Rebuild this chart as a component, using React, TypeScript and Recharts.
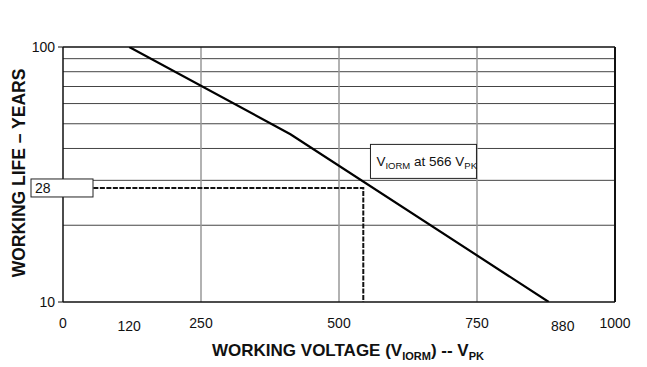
import React from "react";
import { LineChart, Line, XAxis, YAxis, ReferenceLine, ReferenceDot, Label } from "recharts";

const voltage = [120, 412, 880];
const lifeYears = [100, 45.5, 10];

const markVoltage = [55, 544, 544];
const markLife = [28, 28, 10];

const xTicks = [0, 120, 250, 500, 750, 880, 1000];
const yTicks = [10, 28, 100];
const xGrid = [250, 500, 750];
const yGrid = [20, 30, 40, 50, 60, 70, 80, 90];

const curve = voltage.map((v, i) => ({ v, life: lifeYears[i] }));
const marker = markVoltage.map((v, i) => ({ v, life: markLife[i] }));

const FONT = "'Liberation Sans', Arial, sans-serif";

function XTick(props: any) {
  const { x, y, payload } = props;
  const val = payload.value;
  const odd = val === 120 || val === 880;
  const dx = val === 880 ? 14 : 0;
  return (
    <text x={x + dx} y={y + (odd ? 21 : 18)} textAnchor="middle" fontSize={14} fontFamily={FONT} fill="#111">
      {val}
    </text>
  );
}

function YTick(props: any) {
  const { x, y, payload } = props;
  const val = payload.value;
  if (val === 28) {
    return (
      <g>
        <rect x={x - 25} y={y - 9} width={62} height={18} fill="#fff" stroke="#222" strokeWidth={1} />
        <text x={x - 21} y={y + 5} fontSize={14} fontFamily={FONT} fill="#111">28</text>
      </g>
    );
  }
  return (
    <g>
      <line x1={x + 2} x2={x + 7} y1={y} y2={y} stroke="#111" strokeWidth={1} />
      <text x={x - 1} y={y + 5} textAnchor="end" fontSize={14} fontFamily={FONT} fill="#111">{val}</text>
    </g>
  );
}

function NoteBox(props: any) {
  const { cx, cy } = props;
  return (
    <g>
      <rect x={cx} y={cy} width={106} height={34} fill="#fff" stroke="#222" strokeWidth={1} />
      <text x={cx + 6} y={cy + 22} fontSize={13.5} fontFamily={FONT} fill="#111">
        V<tspan fontSize={9.5} dy={3}>IORM</tspan>
        <tspan dy={-3}> at 566 V</tspan>
        <tspan fontSize={9.5} dy={3}>PK</tspan>
      </text>
    </g>
  );
}

export default function App() {
  return (
    <div style={{ position: "absolute", left: 0, top: 0, background: "#fff" }}>
      <LineChart width={647} height={367} margin={{ top: 47, right: 32, bottom: 0, left: 0 }}>
        {yGrid.map((g) => (
          <ReferenceLine key={"h" + g} y={g} stroke="#444" strokeWidth={1} />
        ))}
        {xGrid.map((g) => (
          <ReferenceLine key={"v" + g} x={g} stroke="#999" strokeWidth={1.5} />
        ))}
        <ReferenceLine y={100} stroke="#111" strokeWidth={1.5} />
        <ReferenceLine x={1000} stroke="#111" strokeWidth={2} />
        <XAxis
          dataKey="v"
          type="number"
          domain={[0, 1000]}
          ticks={xTicks}
          interval={0}
          allowDataOverflow
          height={65}
          tickLine={false}
          axisLine={{ stroke: "#111", strokeWidth: 1.5 }}
          tick={<XTick />}
        >
          <Label
            content={() => (
              <text x={348} y={356} textAnchor="middle" fontSize={17} fontWeight="bold" fontFamily={FONT} fill="#111">
                WORKING VOLTAGE (V<tspan fontSize={11} dy={4}>IORM</tspan>
                <tspan dy={-4}>) -- V</tspan>
                <tspan fontSize={11} dy={4}>PK</tspan>
              </text>
            )}
          />
        </XAxis>
        <YAxis
          dataKey="life"
          scale="log"
          domain={[10, 100]}
          ticks={yTicks}
          interval={0}
          allowDataOverflow
          width={63}
          tickSize={5}
          tickMargin={2}
          tickLine={false}
          axisLine={{ stroke: "#111", strokeWidth: 1.5 }}
          tick={<YTick />}
        >
          <Label
            content={() => (
              <text
                x={19}
                y={173}
                transform="rotate(-90 19 173)"
                textAnchor="middle"
                dominantBaseline="central"
                fontSize={17.5}
                fontWeight="bold"
                fontFamily={FONT}
                fill="#111"
              >
                WORKING LIFE – YEARS
              </text>
            )}
          />
        </YAxis>
        <Line
          data={marker}
          dataKey="life"
          stroke="#111"
          strokeWidth={2}
          strokeDasharray="5 1.5"
          dot={false}
          isAnimationActive={false}
        />
        <Line
          data={curve}
          dataKey="life"
          stroke="#000"
          strokeWidth={2.2}
          dot={false}
          isAnimationActive={false}
        />
        <ReferenceDot x={557} y={41.5} r={0} shape={<NoteBox />} />
      </LineChart>
    </div>
  );
}
